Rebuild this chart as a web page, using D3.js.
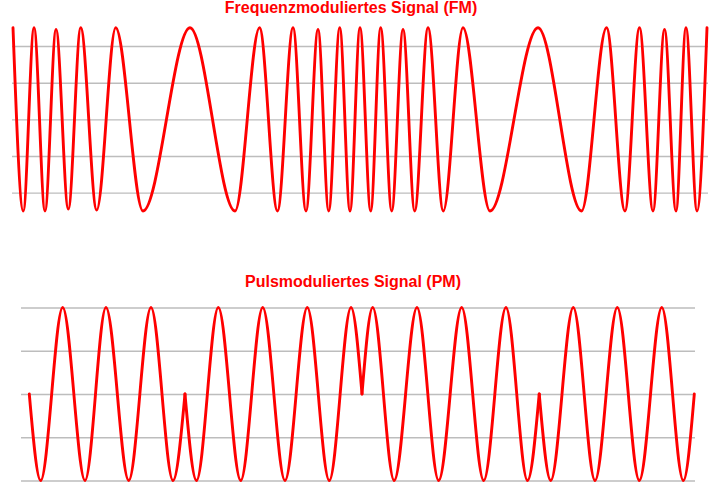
<!DOCTYPE html>
<html><head><meta charset="utf-8">
<script src="https://cdn.jsdelivr.net/npm/d3@7"></script>
<style>html,body{margin:0;padding:0;background:#fff;} svg{display:block;}</style>
</head><body><svg id="c" width="720" height="500"></svg>
<script>
// ---- Data ----
const fmTitle = "Frequenzmoduliertes Signal (FM)";
const pmTitle = "Pulsmoduliertes Signal (PM)";

// FM signal: time (0..100) and value of each peak / trough
const fmTime  = [0, 1.48, 3.03, 4.61, 6.20, 7.97, 9.76, 12.06, 14.80, 18.73, 25.50, 31.99,
                 35.52, 38.11, 40.35, 42.22, 43.95, 45.49, 47.08, 48.56, 50.00, 51.54,
                 52.98, 54.57, 56.20, 57.88, 59.80, 62.00, 64.84, 68.73, 75.65, 81.92,
                 85.52, 88.18, 90.27, 92.22, 93.88, 95.53, 96.97, 98.56, 100];
const fmValue = [1, -1, 1, -1, 0.98, -0.98, 1, -0.99, 1, -1, 1, -1,
                 1, -1, 1, -1, 0.98, -1, 1, -1, 1, -1,
                 1, -1, 0.98, -1, 1, -1, 1, -1, 1, -1,
                 1, -1, 1, -1, 0.98, -1, 1, -1, 1];
const fmGrid = [-0.8, -0.4, 0, 0.4, 0.8];

// PM signal: time (0..100) and value at peaks / troughs / phase jumps
const pmTime  = [0, 1.71, 5.02, 8.38, 11.53, 14.95, 18.30, 21.61, 23.41, 25.14, 28.42,
                 31.79, 35.10, 38.45, 41.80, 45.11, 48.38, 50.03, 51.64, 54.87, 58.30,
                 61.56, 65.02, 68.33, 71.68, 74.92, 76.68, 78.41, 81.80, 85.07, 88.42,
                 91.73, 95.11, 98.35, 100];
const pmValue = [0, -1, 1, -1, 1, -1, 1, -1, 0, -1, 1,
                 -1, 1, -1, 1, -1, 1, 0, 1, -1, 1,
                 -1, 1, -1, 1, -1, 0, -1, 1, -1, 1,
                 -1, 1, -1, 0];
const pmGrid = [-1, -0.5, 0, 0.5, 1];

// ---- Drawing ----
const svg = d3.select("#c");
svg.append("rect").attr("width", 720).attr("height", 500).attr("fill", "#fff");

const RED = "#ff0000";

function panel(opt) {
  const x = d3.scaleLinear().domain([0, 100]).range(opt.xr);
  const y = d3.scaleLinear().domain([-1, 1]).range(opt.yr);
  const g = svg.append("g");

  const ax = d3.axisLeft(y).tickValues(opt.grid)
    .tickSize(-(opt.gx[1] - opt.gx[0])).tickFormat("");
  const ga = g.append("g").attr("transform", `translate(${opt.gx[0]},0)`).call(ax);
  ga.select(".domain").remove();
  ga.selectAll(".tick line").attr("stroke", "#bdbdbd").attr("stroke-width", 1.4);

  const pts = opt.time.map((t, i) => [t, opt.value[i]]);
  // split at phase jumps (interior zero points)
  const segs = [];
  let cur = [];
  pts.forEach((p, i) => {
    cur.push(p);
    if (i > 0 && i < pts.length - 1 && p[1] === 0) { segs.push(cur); cur = [p]; }
  });
  segs.push(cur);

  const line = d3.line().x(d => x(d[0])).y(d => y(d[1])).curve(d3.curveMonotoneX);
  g.selectAll("path.sig").data(segs).join("path").attr("class", "sig")
    .attr("d", line).attr("fill", "none").attr("stroke", RED)
    .attr("stroke-width", 2.9).attr("stroke-linejoin", "round").attr("stroke-linecap", "round");

  g.append("text").attr("x", opt.title[1]).attr("y", opt.title[2])
    .attr("text-anchor", "middle")
    .attr("font-family", "'Liberation Sans', Arial, sans-serif")
    .attr("font-weight", "bold").attr("font-size", 16).attr("fill", RED)
    .text(opt.title[0]);
}

panel({ time: fmTime, value: fmValue, grid: fmGrid,
        xr: [13, 707], yr: [211, 27.7], gx: [12, 708],
        title: [fmTitle, 351, 13] });
panel({ time: pmTime, value: pmValue, grid: pmGrid,
        xr: [29.3, 694.3], yr: [480.5, 307.5], gx: [21, 695],
        title: [pmTitle, 353, 287] });
</script></body></html>
